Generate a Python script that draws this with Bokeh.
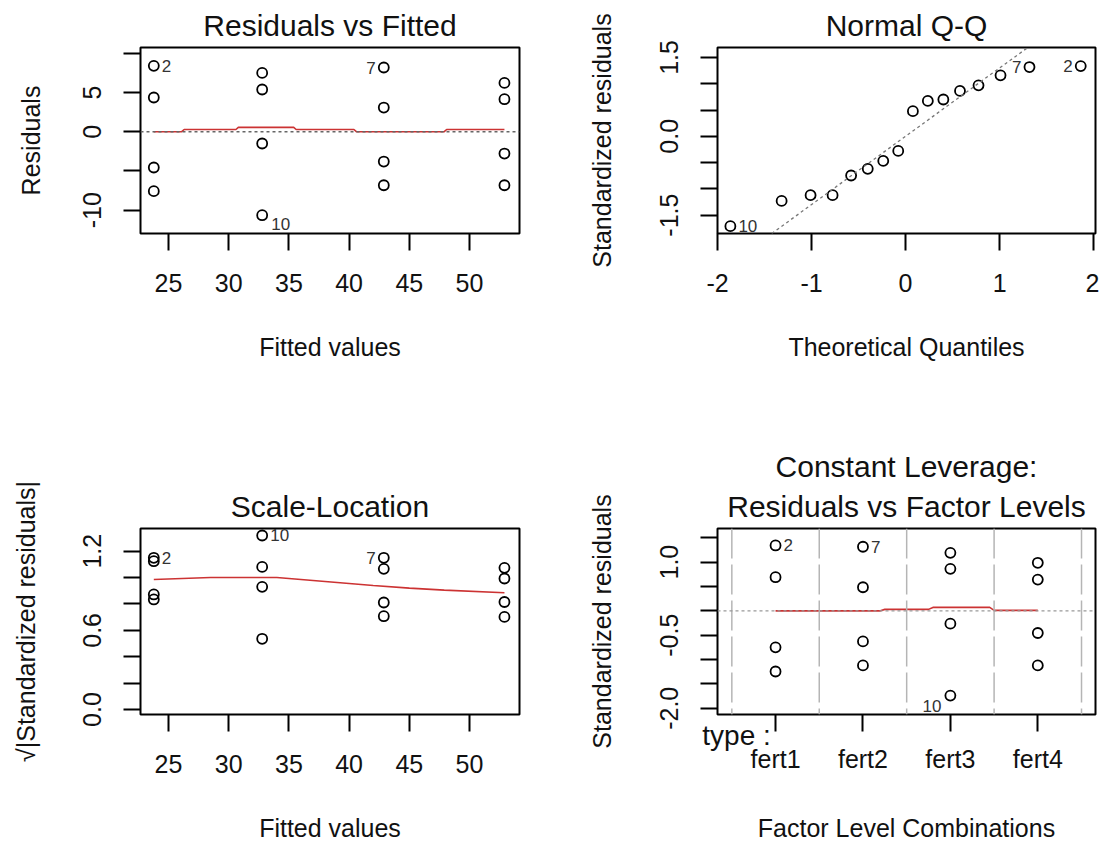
from bokeh.plotting import figure
from bokeh.layouts import column, row
from bokeh.models import Range1d, FixedTicker, Span, Slope, Title, LinearAxis
from bokeh.embed import file_html
from bokeh.resources import INLINE
from bokeh.core.properties import value

FONT = "Liberation Sans"

# ---------------- data ----------------
# Residuals vs Fitted
fitted = [23.78, 23.78, 23.78, 23.78, 32.78, 32.78, 32.78, 32.78,
          42.88, 42.88, 42.88, 42.88, 52.9, 52.9, 52.9, 52.9]
residuals = [8.39, 4.36, -4.56, -7.58, 7.49, 5.38, -1.50, -10.64,
             8.18, 3.08, -3.80, -6.82, 6.22, 4.14, -2.78, -6.82]
rf_smooth_x = [23.78, 26.1, 26.3, 30.6, 30.8, 35.4, 35.6, 40.4, 40.6, 47.9, 48.1, 52.9]
rf_smooth_y = [0.0, 0.0, 0.28, 0.28, 0.55, 0.55, 0.28, 0.28, 0.0, 0.0, 0.28, 0.28]
rf_id_x = [23.78, 32.78, 42.88]
rf_id_y = [8.39, -10.64, 8.18]
rf_id_text = ["2", "10", "7"]

# Normal Q-Q
theoretical = [-1.863, -1.318, -1.010, -0.776, -0.579, -0.402, -0.237, -0.078,
               0.078, 0.237, 0.402, 0.579, 0.776, 1.010, 1.318, 1.863]
std_sorted = [-1.71, -1.23, -1.12, -1.12, -0.746, -0.62, -0.468, -0.278,
              0.479, 0.674, 0.70, 0.864, 0.97, 1.16, 1.318, 1.337]
qq_slope = 1.30
qq_intercept = 0.0
qq_id_x = [-1.863, 1.318, 1.863]
qq_id_y = [-1.71, 1.318, 1.337]
qq_id_text = ["10", "7", "2"]

# Scale-Location
sl_vals = [1.15, 1.124, 0.872, 0.834, 1.319, 1.081, 0.93, 0.536,
           1.15, 1.066, 0.811, 0.707, 1.074, 0.993, 0.815, 0.702]
sl_smooth_x = [23.78, 28.5, 34.0, 36.0, 38.0, 40.0, 42.0, 45.0, 47.9, 52.9]
sl_smooth_y = [0.985, 1.0, 1.0, 0.985, 0.97, 0.955, 0.94, 0.92, 0.905, 0.885]
sl_id_x = [23.78, 32.78, 42.88]
sl_id_y = [1.15, 1.319, 1.15]
sl_id_text = ["2", "10", "7"]

# Constant Leverage: Residuals vs Factor Levels
levels = ["fert1", "fert2", "fert3", "fert4"]
level_ticks = [1, 2, 3, 4]
level_pos = [1, 1, 1, 1, 2, 2, 2, 2, 3, 3, 3, 3, 4, 4, 4, 4]
std_resid = [1.342, 0.69, -0.75, -1.245, 1.315, 0.484, -0.627, -1.12,
             1.19, 0.862, -0.264, -1.74, 0.986, 0.642, -0.455, -1.12]
fl_smooth_x = [1, 2.2, 2.25, 2.75, 2.8, 3.45, 3.5, 4]
fl_smooth_y = [0.0, 0.0, 0.03, 0.03, 0.07, 0.07, 0.01, 0.01]
fl_id_x = [1, 2, 3]
fl_id_y = [1.342, 1.315, -1.74]
fl_id_text = ["2", "7", "10"]
level_bounds = [0.5, 1.5, 2.5, 3.5, 4.5]
factor_name = "type :"
factor_name_pos = 0.554

# ---------------- helpers ----------------
def style_axis(ax):
    ax.axis_line_color = None
    ax.major_tick_line_color = "black"
    ax.major_tick_line_width = 2
    ax.major_tick_out = 17
    ax.major_tick_in = 0
    ax.minor_tick_line_color = None
    ax.major_label_text_font = FONT
    ax.major_label_text_font_size = "25px"
    ax.major_label_text_color = "#111111"
    ax.axis_label_text_font = FONT
    ax.axis_label_text_font_size = "25px"
    ax.axis_label_text_font_style = "normal"
    ax.axis_label_text_color = "#111111"


def make_fig(width, height, xr, yr, bl, br, bt, bb):
    p = figure(width=width, height=height, x_range=Range1d(*xr), y_range=Range1d(*yr),
               output_backend="svg", toolbar_location=None,
               min_border_left=bl, min_border_right=br,
               min_border_top=bt, min_border_bottom=bb)
    p.xgrid.visible = False
    p.ygrid.visible = False
    p.background_fill_color = "white"
    p.border_fill_color = "white"
    p.outline_line_color = "black"
    p.outline_line_width = 2
    p.outline_line_alpha = 1
    for ax in p.axis:
        style_axis(ax)
    p.yaxis.major_label_orientation = "vertical"
    p.yaxis.major_label_standoff = 22
    p.yaxis.axis_label_standoff = 36
    p.xaxis.major_label_standoff = 23
    p.xaxis.axis_label_standoff = 38
    p.title.align = "center"
    p.title.text_font = FONT
    p.title.text_font_size = "30px"
    p.title.text_font_style = "normal"
    p.title.text_color = "#111111"
    p.title.standoff = 11
    return p


def set_ticks(axis, ticks, labels):
    axis.ticker = FixedTicker(ticks=ticks)
    axis.major_label_overrides = {t: l for t, l in zip(ticks, labels)}


def points(p, x, y):
    p.scatter(x, y, marker="circle", size=10, fill_color=None,
              line_color="black", line_width=1.8)


def ids(p, x, y, text, sides):
    for xi, yi, ti, s in zip(x, y, text, sides):
        if s == "r":
            xo, yo, al = 8, 0, "left"
        elif s == "rb":
            xo, yo, al = 9, 9, "left"
        elif s == "lb":
            xo, yo, al = -9, 10, "right"
        else:
            xo, yo, al = -8, 0, "right"
        p.text(x=[xi], y=[yi], text=[ti], x_offset=xo, y_offset=yo,
               text_align=al, text_baseline="middle", text_font=value(FONT),
               text_font_size="17px", text_color="#333333")


# ---------------- panel 1: Residuals vs Fitted ----------------
p1 = make_fig(560, 422, (22.675, 54.15), (-12.97, 10.73), 140, 41, 47, 189)
p1.title.text = "Residuals vs Fitted"
p1.xaxis.axis_label = "Fitted values"
p1.yaxis.axis_label = "Residuals"
set_ticks(p1.xaxis, [25, 30, 35, 40, 45, 50], ["25", "30", "35", "40", "45", "50"])
set_ticks(p1.yaxis, [-10, -5, 0, 5, 10], ["-10", "", "0", "5", ""])
p1.add_layout(Span(location=0, dimension="width", line_color="#666666",
                   line_dash="3 3", line_width=1.5))
p1.line(rf_smooth_x, rf_smooth_y, line_color="#cc3333", line_width=1.6)
points(p1, fitted, residuals)
ids(p1, rf_id_x, rf_id_y, rf_id_text, ["r", "rb", "l"])

# ---------------- panel 2: Normal Q-Q ----------------
p2 = make_fig(539, 422, (-2.0, 2.02), (-1.85, 1.69), 157, 4, 47, 189)
p2.title.text = "Normal Q-Q"
p2.xaxis.axis_label = "Theoretical Quantiles"
p2.yaxis.axis_label = "Standardized residuals"
p2.yaxis.axis_label_standoff = 42
set_ticks(p2.xaxis, [-2, -1, 0, 1, 2], ["-2", "-1", "0", "1", "2"])
set_ticks(p2.yaxis, [-1.5, -1.0, -0.5, 0.0, 0.5, 1.0, 1.5],
          ["-1.5", "", "", "0.0", "", "", "1.5"])
p2.add_layout(Slope(gradient=qq_slope, y_intercept=qq_intercept, line_color="#777777",
                    line_dash="3 3", line_width=1.3))
points(p2, theoretical, std_sorted)
ids(p2, qq_id_x, qq_id_y, qq_id_text, ["r", "l", "l"])

# ---------------- panel 3: Scale-Location ----------------
p3 = make_fig(560, 422, (22.675, 54.15), (-0.038, 1.372), 140, 41, 106, 130)
p3.title.text = "Scale-Location"
p3.xaxis.axis_label = "Fitted values"
p3.yaxis.axis_label = "√|Standardized residuals|"
p3.yaxis.axis_label_standoff = 41
set_ticks(p3.xaxis, [25, 30, 35, 40, 45, 50], ["25", "30", "35", "40", "45", "50"])
set_ticks(p3.yaxis, [0.0, 0.2, 0.4, 0.6, 0.8, 1.0, 1.2],
          ["0.0", "", "", "0.6", "", "", "1.2"])
p3.line(sl_smooth_x, sl_smooth_y, line_color="#cc3333", line_width=1.6)
points(p3, fitted, sl_vals)
ids(p3, sl_id_x, sl_id_y, sl_id_text, ["r", "r", "l"])

# ---------------- panel 4: Constant Leverage ----------------
p4 = make_fig(539, 422, (0.336, 4.66), (-2.128, 1.69), 157, 4, 106, 130)
p4.title.text = "Constant Leverage:"
p4.title.standoff = 0
p4.add_layout(Title(text="Residuals vs Factor Levels", align="center", text_font=FONT,
                    text_font_size="30px", text_font_style="normal",
                    text_color="#111111", standoff=11), "above")
p4.yaxis.axis_label = "Standardized residuals"
p4.yaxis.axis_label_standoff = 42
set_ticks(p4.yaxis, [-2.0, -1.5, -1.0, -0.5, 0.0, 0.5, 1.0, 1.5],
          ["-2.0", "", "", "-0.5", "", "", "1.0", ""])

# outer factor axis: level labels (no tick marks of its own) and the axis title
fax = p4.xaxis[0]
set_ticks(fax, level_ticks, levels)
fax.major_tick_out = 0
fax.major_tick_line_color = None
fax.major_label_standoff = -9
fax.axis_label = "Factor Level Combinations"
fax.axis_label_standoff = 38

# innermost axis: only the tick marks at the levels
kax = LinearAxis()
style_axis(kax)
set_ticks(kax, level_ticks, ["", "", "", ""])
kax.major_label_text_font_size = "1px"
kax.major_label_standoff = 0

# middle axis: the factor name
tax = LinearAxis()
style_axis(tax)
set_ticks(tax, [factor_name_pos], [factor_name])
tax.major_tick_out = 0
tax.major_tick_line_color = None
tax.major_label_text_font_size = "28px"
tax.major_label_standoff = -12

p4.below = [kax, tax, fax]

for b in level_bounds:
    p4.add_layout(Span(location=b, dimension="height", line_color="#b5b5b5",
                       line_dash="30 6", line_width=1.5))
p4.add_layout(Span(location=0, dimension="width", line_color="#999999",
                   line_dash="3 3", line_width=1.3))
p4.line(fl_smooth_x, fl_smooth_y, line_color="#cc3333", line_width=1.6)
points(p4, level_pos, std_resid)
ids(p4, fl_id_x, fl_id_y, fl_id_text, ["r", "r", "lb"])

layout = column(row(p1, p2), row(p3, p4))
open("out.html", "w").write(file_html(layout, INLINE))
